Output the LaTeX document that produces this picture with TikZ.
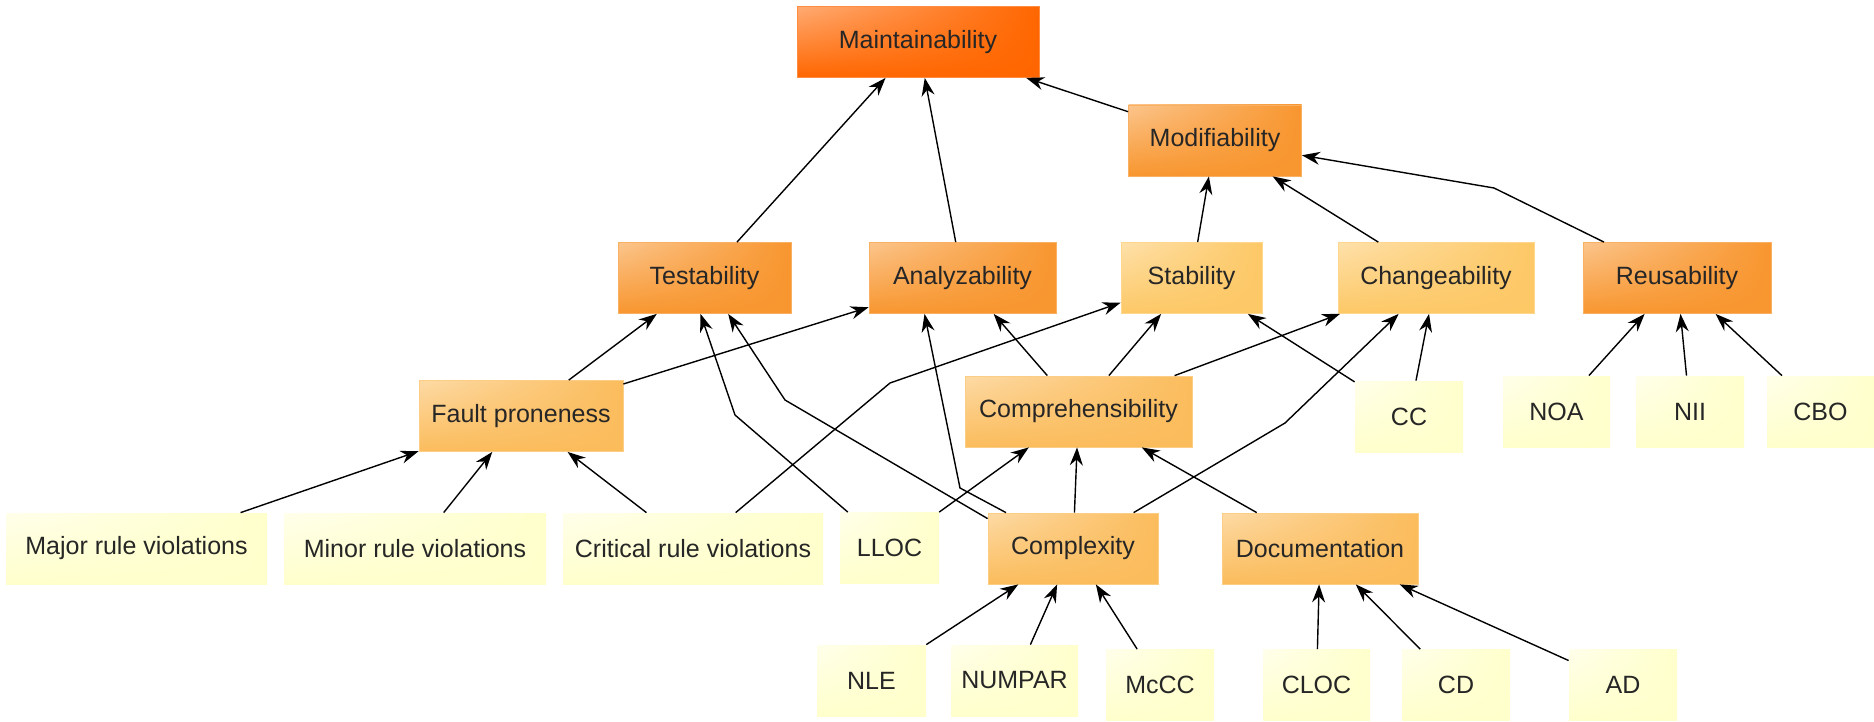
\documentclass[tikz,border=0pt]{standalone}
\usepackage{fontspec}
\setmainfont{Liberation Sans}
\usetikzlibrary{arrows.meta,shadings}
\definecolor{maintcol}{HTML}{FF6600}
\definecolor{orangecol}{HTML}{F8962F}
\definecolor{subcol}{HTML}{FBBC5C}
\definecolor{palecol}{HTML}{FDC866}
\definecolor{leafcol}{HTML}{FFFFCC}
\tikzset{
  box/.style={rectangle, inner sep=0pt, minimum height=35.5pt,
    font=\fontsize{12.5}{15}\selectfont, text=black!85},
  glossy/.style={box, draw=#1!75!white, line width=0.4pt,
    upper left=#1!55!white, upper right=#1, lower left=#1, lower right=#1},
  top/.style={glossy=maintcol},
  mid/.style={glossy=orangecol},
  pale/.style={glossy=palecol},
  sub/.style={glossy=subcol},
  metric/.style={box, upper left=leafcol!40!white, upper right=leafcol,
    lower left=leafcol, lower right=leafcol},
  link/.style={draw, line width=0.7pt, -{Stealth[length=9pt,width=6.5pt]}}
}

\begin{document}
\begin{tikzpicture}[x=0.5pt,y=-0.5pt]
	\useasboundingbox (0,0) rectangle (1874,722);
	% qualities
	\node[top, minimum width=121pt] (maint) at (918,42) {Maintainability};
	\node[mid, minimum width=86.5pt] (modif) at (1215,140.5) {Modifiability};
	\node[mid, minimum width=86.5pt] (test) at (704.5,278) {Testability};
	\node[mid, minimum width=93.5pt] (analyz) at (962.5,278) {Analyzability};
	\node[pale, minimum width=70.5pt] (stab) at (1191.5,278) {Stability};
	\node[pale, minimum width=98pt] (change) at (1436,278) {Changeability};
	\node[mid, minimum width=94pt] (reuse) at (1677,278) {Reusability};
	\node[sub, minimum width=102pt] (fault) at (521,416) {Fault proneness};
	\node[sub, minimum width=113.5pt] (compr) at (1078.5,411.5) {Comprehensibility};
	\node[sub, minimum width=85pt] (cplx) at (1073,548.5) {Complexity};
	\node[sub, minimum width=98pt] (doc) at (1320,548.5) {Documentation};
	% metrics
	\node[metric, minimum width=54pt] (cc) at (1409,416.5) {CC};
	\node[metric, minimum width=53.5pt] (noa) at (1556.5,411.5) {NOA};
	\node[metric, minimum width=54pt] (nii) at (1690,411.5) {NII};
	\node[metric, minimum width=53.5pt] (cbo) at (1820.5,411.5) {CBO};
	\node[metric, minimum width=130.5pt] (major) at (136.5,548.5) {Major rule violations};
	\node[metric, minimum width=131pt] (minor) at (415,548.5) {Minor rule violations};
	\node[metric, minimum width=130pt] (crit) at (693,548.5) {Critical rule violations};
	\node[metric, minimum width=49.5pt] (lloc) at (889.5,548) {LLOC};
	\node[metric, minimum width=54.5pt] (nle) at (871.5,680.5) {NLE};
	\node[metric, minimum width=63.5pt] (numpar) at (1014.5,680.5) {NUMPAR};
	\node[metric, minimum width=54pt] (mccc) at (1160,685) {McCC};
	\node[metric, minimum width=53.5pt] (cloc) at (1316.5,685) {CLOC};
	\node[metric, minimum width=54pt] (cd) at (1456,685) {CD};
	\node[metric, minimum width=54pt] (ad) at (1623,685) {AD};
	% bends
	\coordinate (bendreuse) at (1494,188);
	\coordinate (bendlloc) at (735,415);
	\coordinate (bendcplxt) at (785,400);
	\coordinate (bendcplxa) at (960,488);
	\coordinate (bendcrit) at (890,383);
	\coordinate (bendcplxc) at (1285,423);
	% straight links
	\foreach \a/\b in {test/maint, analyz/maint, modif/maint, stab/modif,
		change/modif, fault/test, fault/analyz, compr/analyz, compr/stab,
		compr/change, cc/stab, cc/change, noa/reuse, nii/reuse, cbo/reuse,
		major/fault, minor/fault, crit/fault, lloc/compr, cplx/compr,
		doc/compr, nle/cplx, numpar/cplx, mccc/cplx, cloc/doc, cd/doc, ad/doc}
		\draw[link] (\a) -- (\b);
	% bent links
	\draw[link] (reuse) -- (bendreuse) -- (modif);
	\draw[link] (lloc) -- (bendlloc) -- ([xshift=-2pt]test.south);
	\draw[link] ([yshift=-3pt]cplx.north west) -- (bendcplxt) -- (test);
	\draw[link] (cplx) -- (bendcplxa) -- ([xshift=-19pt]analyz.south);
	\draw[link] (crit) -- (bendcrit) -- (stab);
	\draw[link] (cplx) -- (bendcplxc) -- (change);
\end{tikzpicture}
\end{document}
